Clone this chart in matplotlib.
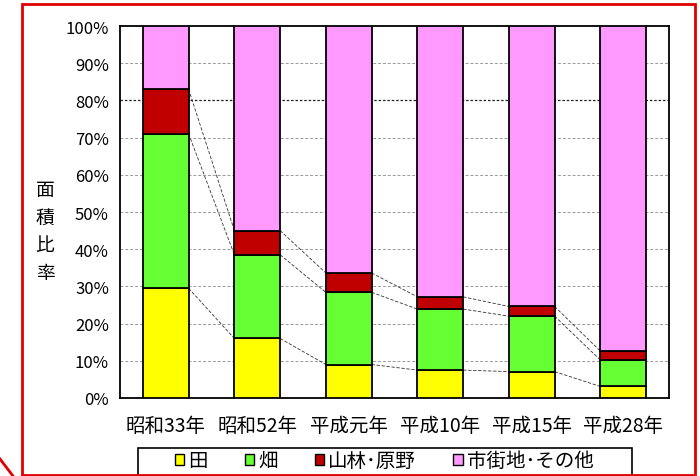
import matplotlib
matplotlib.use("Agg")
import matplotlib.pyplot as plt
from matplotlib.patches import Patch, Rectangle
from matplotlib.lines import Line2D
import numpy as np

plt.rcParams['font.family'] = ['Noto Sans CJK JP', 'DejaVu Sans']

years = ["昭和33年", "昭和52年", "平成元年", "平成10年", "平成15年", "平成28年"]
ta = [29.5, 16.0, 9.0, 7.5, 7.1, 3.1]
hatake = [41.5, 22.5, 19.4, 16.4, 14.9, 7.1]
sanrin = [12.0, 6.5, 5.2, 3.3, 2.6, 2.4]
names = ["田", "畑", "山林･原野", "市街地･その他"]
colors = ["#ffff00", "#66ff33", "#c00000", "#ff99ff"]

other = [100 - a - b - c for a, b, c in zip(ta, hatake, sanrin)]
data = np.array([ta, hatake, sanrin, other])
cum = data.cumsum(axis=0)

fig = plt.figure(figsize=(7, 4.77), dpi=100)
ax = fig.add_axes([120 / 700, 78 / 477, 549 / 700, 372 / 477])

x = np.arange(len(years))
w = 0.5
for i in range(4):
    ax.bar(x, data[i], w, bottom=cum[i] - data[i], color=colors[i],
           edgecolor="black", linewidth=1.3, zorder=3)

# connector lines between bar tops
for i in range(3):
    for j in range(len(years) - 1):
        ax.plot([x[j] + w / 2, x[j + 1] - w / 2], [cum[i][j], cum[i][j + 1]],
                color="#333333", linewidth=0.6, linestyle=(0, (4, 2)), zorder=2)

ax.set_xlim(-0.5, len(years) - 0.5)
ax.set_ylim(0, 100)
ax.set_yticks(range(0, 101, 10))
ax.set_yticklabels([f"{v}%" for v in range(0, 101, 10)], fontsize=12)
ax.set_xticks(x)
ax.set_xticklabels(years, fontsize=14)
ax.tick_params(length=0, pad=8)
ax.tick_params(axis="x", pad=12)
for v in range(10, 100, 10):
    if v == 80:
        ax.axhline(v, color="#222222", linewidth=0.9, linestyle=(0, (2, 1.5)), zorder=1)
    else:
        ax.axhline(v, color="#999999", linewidth=0.7, linestyle=(0, (3, 2)), zorder=1)
for s in ax.spines.values():
    s.set_linewidth(1.3)

fig.text(45 / 700, 1 - 232 / 477, "面\n積\n比\n率", fontsize=13.5, ha="center",
         va="center", linespacing=1.4)

handles = [Patch(facecolor=c, edgecolor="black", linewidth=1) for c in colors]
leg = fig.legend(handles, names, loc="upper center", ncol=4,
                 bbox_to_anchor=(384 / 700, 1 - 449 / 477),
                 fontsize=14, frameon=False,
                 handlelength=0.5, handleheight=0.5, handletextpad=0.2,
                 columnspacing=1.9, borderaxespad=0, borderpad=0.1)
# legend frame, cut off by the bottom edge
fig.patches.append(Rectangle((138 / 700, -0.02), 494 / 700, 1 - 449 / 477 + 0.02,
                             transform=fig.transFigure, fill=False,
                             edgecolor="black", linewidth=1.2))

# red outer frame
fig.patches.append(Rectangle((22 / 700, 1 / 477), 673 / 700, 471 / 477,
                             transform=fig.transFigure, fill=False,
                             edgecolor="#e00000", linewidth=2))
fig.lines.append(Line2D([0, 13 / 700], [17 / 477, 0], transform=fig.transFigure,
                        color="#e00000", linewidth=2))

fig.savefig("out.png", dpi=100)
